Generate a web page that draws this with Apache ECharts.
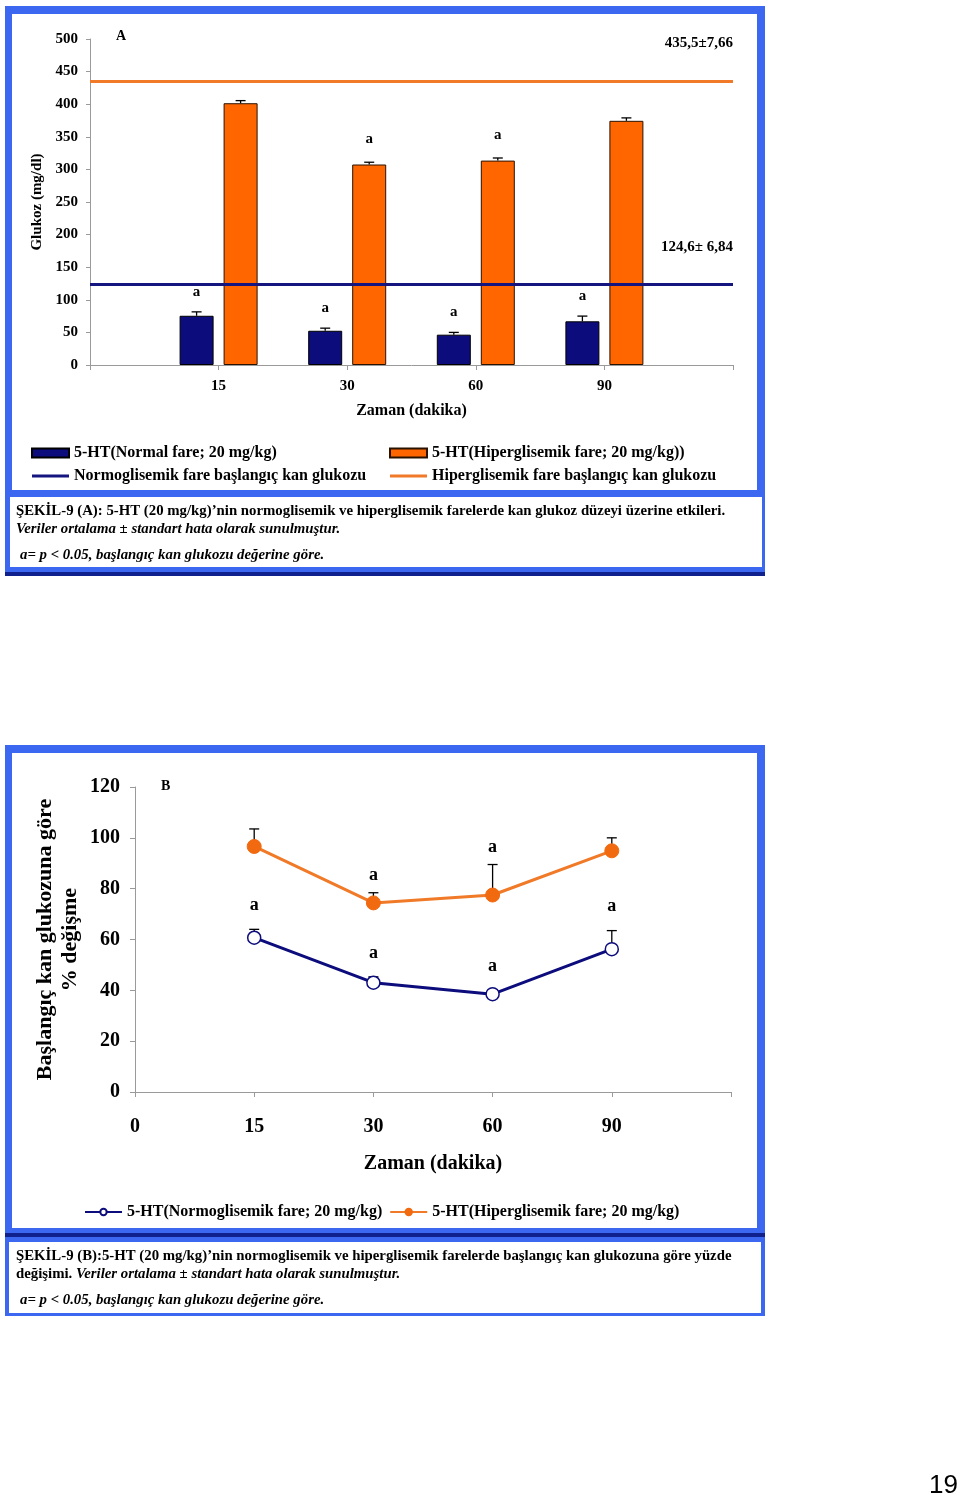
<!DOCTYPE html>
<html><head><meta charset="utf-8">
<script src="https://cdn.jsdelivr.net/npm/echarts@6/dist/echarts.min.js"></script>
<style>html,body{margin:0;padding:0;background:#fff}#c{width:960px;height:1498px}</style>
</head><body><div id="c"></div>
<script>
// ---------- Panel A data ----------
const timeCatsA = ['', '15', '30', '60', '90', ''];
const normalGlucose = [75.5, 52.5, 46.5, 67];
const normalGlucoseErr = [6, 4, 3.5, 8];
const normalSig = [1, 1, 1, 1];
const hyperGlucose = [401.5, 307.5, 313.5, 374.5];
const hyperGlucoseErr = [4, 3.5, 4, 4.5];
const hyperSig = [0, 1, 1, 0];
const normalBaseline = 124.6;
const normalBaselineLabel = '124,6± 6,84';
const hyperBaseline = 435.5;
const hyperBaselineLabel = '435,5±7,66';
const yMinA = 0, yMaxA = 500, yStepA = 50;

// ---------- Panel B data ----------
const timeCatsB = ['0', '15', '30', '60', '90', ''];
const normalPct = [60.7, 43, 38.5, 56.2];
const normalPctErr = [3.3, 2.3, 1.5, 7.3];
const normalPctSig = [1, 1, 1, 1];
const hyperPct = [96.6, 74.4, 77.5, 94.9];
const hyperPctErr = [6.9, 4, 12, 5.1];
const hyperPctSig = [0, 1, 1, 0];
const yMinB = 0, yMaxB = 120, yStepB = 20;

// ---------- names ----------
const nmNormalA = '5-HT(Normal fare; 20 mg/kg)';
const nmHyperA = '5-HT(Hiperglisemik fare; 20 mg/kg))';
const nmNormalBase = 'Normoglisemik fare başlangıç kan glukozu';
const nmHyperBase = 'Hiperglisemik fare başlangıç kan glukozu';
const nmNormalB = '5-HT(Normoglisemik fare; 20 mg/kg)';
const nmHyperB = '5-HT(Hiperglisemik fare; 20 mg/kg)';

// ---------- style ----------
const SERIF = '"Liberation Serif", "Times New Roman", serif';
const NAVY = '#0C0C7C';
const ORANGE = '#FF6600';
const ORANGE_LINE = '#F07A28';
const BLUE = '#3C67F0';
const DARK = '#10208C';
const AXIS_C = '#9a9a9a';
const BAR_W = 34, BAR_GAP_PX = 10;
const barOff = (BAR_W + BAR_GAP_PX) / 2;
const LINE_ICON = 'path://M0,0H40V3H0Z';

function errSeries(xi, yi, vals, errs, sigs, offset, cap, font, gap) {
  return {
    type: 'custom', xAxisIndex: xi, yAxisIndex: yi, z: 4, silent: true,
    encode: { x: 0, y: 1 },
    data: vals.map((v, k) => [k + 1, v, errs[k], sigs[k]]),
    renderItem(params, api) {
      const i = api.value(0), v = api.value(1), e = api.value(2), s = api.value(3);
      const p0 = api.coord([i, v]), p1 = api.coord([i, v + e]);
      const x = p0[0] + offset;
      const ch = [
        { type: 'line', shape: { x1: x, y1: p0[1], x2: x, y2: p1[1] }, style: { stroke: '#000', lineWidth: 1.3 } },
        { type: 'line', shape: { x1: x - cap, y1: p1[1], x2: x + cap, y2: p1[1] }, style: { stroke: '#000', lineWidth: 1.3 } }
      ];
      if (s) ch.push({ type: 'text', style: { text: 'a', x: x, y: p1[1] - gap, align: 'center', verticalAlign: 'middle', textAlign: 'center', textVerticalAlign: 'middle', font: font, fill: '#000' } });
      return { type: 'group', children: ch };
    }
  };
}

function txt(text, x, y, font, align) {
  const a = align || 'left';
  return { type: 'text', z: 50, silent: true,
    style: { text, x, y, font, fill: '#000', align: a, verticalAlign: 'middle', textAlign: a, textVerticalAlign: 'middle' } };
}
function rect(x, y, w, h, fill) {
  return { type: 'rect', z: -10, silent: true, shape: { x, y, width: w, height: h }, style: { fill } };
}

const capFont = 'bold 14.8px ' + SERIF;
const capItFont = 'italic bold 14.8px ' + SERIF;
const legText = { fontSize: 16, fontWeight: 'bold', fontFamily: SERIF, color: '#000' };

const chart = echarts.init(document.getElementById('c'), null, { renderer: 'canvas' });
chart.setOption({
  backgroundColor: '#fff',
  animation: false,
  textStyle: { fontFamily: SERIF, color: '#000' },
  grid: [
    { left: 90, top: 39, width: 643, height: 326, outerBoundsMode: 'none', containLabel: false },
    { left: 135, top: 787, width: 596, height: 305, outerBoundsMode: 'none', containLabel: false }
  ],
  xAxis: [
    { type: 'category', gridIndex: 0, data: timeCatsA, boundaryGap: false,
      axisLine: { show: true, lineStyle: { color: AXIS_C } },
      axisTick: { show: true, length: 5, interval: 0, lineStyle: { color: AXIS_C } },
      axisLabel: { interval: 0, margin: 14, color: '#000', fontSize: 15, fontWeight: 'bold', fontFamily: SERIF },
      splitLine: { show: false },
      name: 'Zaman (dakika)', nameLocation: 'middle', nameGap: 38,
      nameTextStyle: { fontSize: 16, fontWeight: 'bold', fontFamily: SERIF, color: '#000' } },
    { type: 'category', gridIndex: 1, data: timeCatsB, boundaryGap: false,
      axisLine: { show: true, lineStyle: { color: AXIS_C } },
      axisTick: { show: true, length: 5, interval: 0, lineStyle: { color: AXIS_C } },
      axisLabel: { interval: 0, margin: 25, color: '#000', fontSize: 20, fontWeight: 'bold', fontFamily: SERIF },
      splitLine: { show: false },
      name: 'Zaman (dakika)', nameLocation: 'middle', nameGap: 62,
      nameTextStyle: { fontSize: 20, fontWeight: 'bold', fontFamily: SERIF, color: '#000' } }
  ],
  yAxis: [
    { type: 'value', gridIndex: 0, min: yMinA, max: yMaxA, interval: yStepA,
      axisLine: { show: true, lineStyle: { color: AXIS_C } },
      axisTick: { show: true, length: 4, lineStyle: { color: AXIS_C } },
      axisLabel: { margin: 12, color: '#000', fontSize: 15, fontWeight: 'bold', fontFamily: SERIF },
      splitLine: { show: false },
      name: 'Glukoz (mg/dl)', nameLocation: 'middle', nameGap: 45, nameRotate: 90,
      nameTextStyle: { fontSize: 15, fontWeight: 'bold', fontFamily: SERIF, color: '#000' } },
    { type: 'value', gridIndex: 1, min: yMinB, max: yMaxB, interval: yStepB,
      axisLine: { show: true, lineStyle: { color: AXIS_C } },
      axisTick: { show: true, length: 5, lineStyle: { color: AXIS_C } },
      axisLabel: { margin: 15, color: '#000', fontSize: 20, fontWeight: 'bold', fontFamily: SERIF },
      splitLine: { show: false },
      name: 'Başlangıç kan glukozuna göre\n% değişme', nameLocation: 'middle', nameGap: 52, nameRotate: 90,
      nameMoveOverlap: false,
      nameTextStyle: { fontSize: 22, fontWeight: 'bold', fontFamily: SERIF, color: '#000', lineHeight: 25, align: 'center' } }
  ],
  legend: [
    { left: 26, top: 440, orient: 'vertical', itemGap: 7, itemWidth: 37, itemHeight: 9, selectedMode: false,
      data: [{ name: nmNormalA, icon: 'rect' }, { name: nmNormalBase, icon: LINE_ICON }],
      textStyle: legText },
    { left: 384, top: 440, orient: 'vertical', itemGap: 7, itemWidth: 37, itemHeight: 9, selectedMode: false,
      data: [{ name: nmHyperA, icon: 'rect' }, { name: nmHyperBase, icon: LINE_ICON }],
      textStyle: legText },
    { left: 79, top: 1199, orient: 'horizontal', itemGap: 7, itemWidth: 37, itemHeight: 8, selectedMode: false,
      data: [nmNormalB, nmHyperB],
      textStyle: legText }
  ],
  series: [
    { type: 'bar', name: nmNormalA, xAxisIndex: 0, yAxisIndex: 0, z: 2,
      barWidth: BAR_W, barGap: (BAR_GAP_PX / BAR_W * 100) + '%',
      itemStyle: { color: NAVY, borderColor: '#000', borderWidth: 1 },
      data: normalGlucose.map((v, k) => [k + 1, v]) },
    { type: 'bar', name: nmHyperA, xAxisIndex: 0, yAxisIndex: 0, z: 2,
      barWidth: BAR_W,
      itemStyle: { color: ORANGE, borderColor: '#2a1200', borderWidth: 1 },
      data: hyperGlucose.map((v, k) => [k + 1, v]) },
    { type: 'line', name: nmNormalBase, xAxisIndex: 0, yAxisIndex: 0, z: 5, symbol: 'none',
      color: '#151580', lineStyle: { color: '#151580', width: 3 }, data: [],
      markLine: { silent: true, symbol: 'none', animation: false,
        lineStyle: { color: '#151580', width: 3, type: 'solid' },
        label: { show: true, position: 'insideEndTop', distance: [0, 29], formatter: normalBaselineLabel,
          color: '#000', fontSize: 15, fontWeight: 'bold', fontFamily: SERIF },
        data: [{ yAxis: normalBaseline }] } },
    { type: 'line', name: nmHyperBase, xAxisIndex: 0, yAxisIndex: 0, z: 5, symbol: 'none',
      color: ORANGE_LINE, lineStyle: { color: ORANGE_LINE, width: 3 }, data: [],
      markLine: { silent: true, symbol: 'none', animation: false,
        lineStyle: { color: ORANGE_LINE, width: 3, type: 'solid' },
        label: { show: true, position: 'insideEndTop', distance: [0, 30], formatter: hyperBaselineLabel,
          color: '#000', fontSize: 15, fontWeight: 'bold', fontFamily: SERIF },
        data: [{ yAxis: hyperBaseline }] } },
    errSeries(0, 0, normalGlucose, normalGlucoseErr, normalSig, -barOff, 5, 'bold 15px ' + SERIF, 20),
    errSeries(0, 0, hyperGlucose, hyperGlucoseErr, hyperSig, barOff, 5, 'bold 15px ' + SERIF, 23),

    errSeries(1, 1, normalPct, normalPctErr, normalPctSig, 0, 5, 'bold 18px ' + SERIF, 24),
    errSeries(1, 1, hyperPct, hyperPctErr, hyperPctSig, 0, 5, 'bold 18px ' + SERIF, 17),
    { type: 'line', name: nmNormalB, xAxisIndex: 1, yAxisIndex: 1, z: 6,
      symbol: 'circle', symbolSize: 13, color: NAVY,
      lineStyle: { color: NAVY, width: 3 },
      itemStyle: { color: '#fff', borderColor: NAVY, borderWidth: 1.5 },
      data: normalPct.map((v, k) => [k + 1, v]) },
    { type: 'line', name: nmHyperB, xAxisIndex: 1, yAxisIndex: 1, z: 6,
      symbol: 'circle', symbolSize: 14, color: '#F26A10',
      lineStyle: { color: ORANGE_LINE, width: 3 },
      itemStyle: { color: '#F26A10', borderColor: '#F26A10', borderWidth: 1 },
      data: hyperPct.map((v, k) => [k + 1, v]) }
  ],
  graphic: { elements: [
    // frame A
    rect(5, 6, 760, 566, BLUE),
    rect(12, 14, 745, 476, '#fff'),
    rect(10, 497, 752, 70, '#fff'),
    rect(5, 572, 760, 4, DARK),
    // frame B
    rect(5, 745, 760, 488, BLUE),
    rect(12, 753, 745, 475, '#fff'),
    rect(5, 1233, 760, 4, DARK),
    rect(5, 1237, 760, 79, BLUE),
    rect(9, 1242, 752, 71, '#fff'),
    // panel letters
    txt('A', 116, 36, 'bold 14px ' + SERIF),
    txt('B', 161, 786, 'bold 14px ' + SERIF),
    // caption A
    txt('ŞEKİL-9 (A): 5-HT (20 mg/kg)’nin normoglisemik ve hiperglisemik farelerde kan glukoz düzeyi üzerine etkileri.', 16, 511, capFont),
    txt('Veriler ortalama ± standart hata olarak sunulmuştur.', 16, 529, capItFont),
    txt('a= p < 0.05, başlangıç kan glukozu değerine göre.', 20, 555, capItFont),
    // caption B
    txt('ŞEKİL-9 (B):5-HT (20 mg/kg)’nin normoglisemik ve hiperglisemik farelerde başlangıç kan glukozuna göre yüzde', 16, 1256, capFont),
    { type: 'text', z: 50, silent: true, style: {
        text: '{b|değişimi.} {i|Veriler ortalama ± standart hata olarak sunulmuştur.}',
        x: 16, y: 1274, verticalAlign: 'middle', textVerticalAlign: 'middle', fill: '#000', font: capFont,
        rich: { b: { font: capFont, fill: '#000', color: '#000' }, i: { font: capItFont, fill: '#000', color: '#000' } } } },
    txt('a= p < 0.05, başlangıç kan glukozu değerine göre.', 20, 1300, capItFont),
    // page number
    txt('19', 958, 1486, '26px "Liberation Sans", Arial, sans-serif', 'right')
  ] }
});
</script>
</body></html>
